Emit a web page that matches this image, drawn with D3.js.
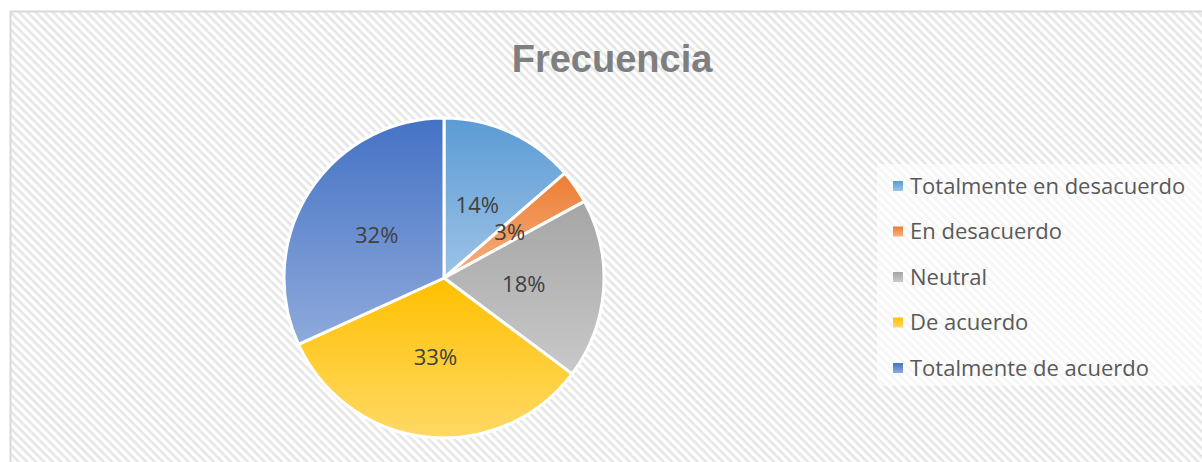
<!DOCTYPE html>
<html>
<head>
<meta charset="utf-8">
<script src="https://cdn.jsdelivr.net/npm/d3@7"></script>
<style>
  body { margin: 0; background: #fff; }
  svg { display: block; }
</style>
</head>
<body>
<div id="chart"></div>
<script>
var categories = ["Totalmente en desacuerdo", "En desacuerdo", "Neutral", "De acuerdo", "Totalmente de acuerdo"];
var counts = [12, 3, 16, 29, 28];
var topColors = ["#5b9bd5", "#ed7d31", "#a5a5a5", "#ffc000", "#4472c4"];
var bottomColors = ["#9dc3e6", "#f4b183", "#c9c9c9", "#ffd966", "#8faadc"];
var title = "Frecuencia";

var width = 1202, height = 462;
var cx = 444, cy = 278, radius = 160;
var font = "Open Sans, Liberation Sans, Arial, sans-serif";

var svg = d3.select("#chart").append("svg")
    .attr("width", width)
    .attr("height", height);

var defs = svg.append("defs");

// wide downward diagonal fill of the chart area
var hatch = defs.append("pattern")
    .attr("id", "hatch")
    .attr("patternUnits", "userSpaceOnUse")
    .attr("width", 6)
    .attr("height", 6)
    .attr("patternTransform", "rotate(45)");
hatch.append("rect").attr("width", 6).attr("height", 6).attr("fill", "#ffffff");
hatch.append("rect").attr("width", 6).attr("height", 2.6).attr("fill", "#e6e6e6");

categories.forEach(function(c, i) {
  var g = defs.append("linearGradient")
      .attr("id", "grad" + i)
      .attr("x1", 0).attr("y1", 0).attr("x2", 0).attr("y2", 1);
  g.append("stop").attr("offset", "0%").attr("stop-color", topColors[i]);
  g.append("stop").attr("offset", "100%").attr("stop-color", bottomColors[i]);
});

svg.append("rect")
    .attr("x", 10.5).attr("y", 11.5)
    .attr("width", width).attr("height", height)
    .attr("fill", "url(#hatch)")
    .attr("stroke", "#d9d9d9")
    .attr("stroke-width", 2);

svg.append("text")
    .attr("x", 612)
    .attr("y", 72)
    .attr("text-anchor", "middle")
    .attr("font-family", "Liberation Sans, Arial, sans-serif")
    .attr("font-weight", "bold")
    .attr("font-size", 38)
    .attr("fill", "#7f7f7f")
    .text(title);

var total = d3.sum(counts);
var pie = d3.pie().sort(null).value(function(d) { return d; });
var arcs = pie(counts);
var arc = d3.arc().innerRadius(0).outerRadius(radius);

var pieG = svg.append("g")
    .attr("transform", "translate(" + cx + "," + cy + ")");

pieG.selectAll(".slice")
    .data(arcs)
  .enter().append("path")
    .attr("class", "slice")
    .attr("d", arc)
    .attr("fill", function(d, i) { return "url(#grad" + i + ")"; })
    .attr("stroke", "#ffffff")
    .attr("stroke-width", 3)
    .attr("stroke-linejoin", "round");

pieG.selectAll(".lbl")
    .data(arcs)
  .enter().append("text")
    .attr("class", "lbl")
    .attr("transform", function(d) { return "translate(" + arc.centroid(d) + ")"; })
    .attr("text-anchor", "middle")
    .attr("dy", "0.36em")
    .attr("font-family", font)
    .attr("font-size", 22)
    .attr("fill", "#404040")
    .text(function(d) { return Math.round(d.value / total * 100) + "%"; });

// legend
var legend = svg.append("g");
legend.append("rect")
    .attr("x", 877).attr("y", 164)
    .attr("width", 330).attr("height", 222)
    .attr("fill", "#ffffff")
    .attr("fill-opacity", 0.6);

var rows = legend.selectAll(".row")
    .data(categories)
  .enter().append("g")
    .attr("class", "row")
    .attr("transform", function(d, i) { return "translate(893," + (186 + i * 45.5) + ")"; });

rows.append("rect")
    .attr("x", 0).attr("y", -5)
    .attr("width", 10).attr("height", 10)
    .attr("fill", function(d, i) { return "url(#grad" + i + ")"; });

rows.append("text")
    .attr("x", 17)
    .attr("dy", "0.36em")
    .attr("font-family", font)
    .attr("font-size", 22)
    .attr("fill", "#595959")
    .text(function(d) { return d; });
</script>
</body>
</html>
